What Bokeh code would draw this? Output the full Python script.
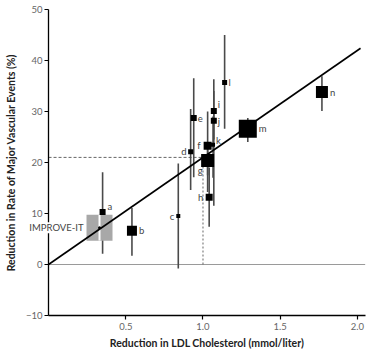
from bokeh.plotting import figure
from bokeh.models import ColumnDataSource, FixedTicker, Range1d, Label, LinearAxis
from bokeh.core.properties import value
from bokeh.embed import file_html
from bokeh.resources import INLINE

# ---- data ----
labels = ["a", "b", "c", "d", "e", "f", "g", "h", "i", "j", "k", "l", "m", "n"]
ldl_red = [0.35, 0.54, 0.84, 0.92, 0.94, 1.03, 1.03, 1.04, 1.07, 1.07, 1.065, 1.14, 1.29, 1.77]
event_red = [10.3, 6.6, 9.5, 22.1, 28.7, 23.3, 20.4, 13.2, 30.1, 28.2, 23.5, 35.7, 26.6, 33.8]
ci_low = [2.1, 1.7, -0.8, 14.6, 17.1, 17.5, 14.2, 7.4, 24.5, 11.5, 17.0, 26.6, 24.0, 30.1]
ci_high = [18.1, 11.1, 19.8, 30.5, 36.5, 30.0, 23.5, 19.0, 36.3, 34.0, 29.0, 45.0, 28.7, 36.9]
weights = [6, 10, 4, 5, 6, 8, 13, 7, 6, 6, 4, 5, 18, 12]

improve_label = "IMPROVE-IT"
improve_x = [0.33]
improve_y = [7.2]
improve_lo = [4.7]
improve_hi = [9.7]

reg_x = [0.0, 2.02]
reg_y = [0.0, 42.4]
ref_x = [1.0]
ref_y = [21.0]

y_ticks = [-10, 0, 10, 20, 30, 40, 50]
x_ticks = [0.5, 1.0, 1.5, 2.0]
x_min, x_max = 0.0, 2.05
y_min, y_max = -10, 50

# label placement (styling, screen px)
lab_dx = [5, 7, -4, -4, 4, -7, -5, -6, 4, 4, 3, 4, 11, 8]
lab_dy = [-5, 0, 0, 0, 0, 0, 10, 0, -6, 1, -4, 0, 0, 0]
lab_align = ["left", "left", "right", "right", "left", "right", "right", "right",
             "left", "left", "left", "left", "left", "left"]

FONT = "Lato"

p = figure(width=367, height=350, output_backend="svg", toolbar_location=None,
           x_range=Range1d(-0.311, 2.065), y_range=Range1d(-16.86, 51.76),
           x_axis_location=None, y_axis_location=None,
           min_border_left=0, min_border_right=0, min_border_top=0, min_border_bottom=0)
p.outline_line_color = None
p.grid.visible = False
p.background_fill_color = "white"

yaxis = LinearAxis(fixed_location=x_min, bounds=(y_min, y_max))
xaxis = LinearAxis(fixed_location=y_min, bounds=(x_min, x_max))
p.add_layout(yaxis, "left")
p.add_layout(xaxis, "below")

# zero line
p.line(x=[x_min, x_max], y=[0, 0], line_color="#9a9a9a", line_width=1)

# dashed reference lines
p.line(x=[x_min, ref_x[0]], y=[ref_y[0], ref_y[0]], line_color="#666666", line_width=1, line_dash="3 2")
p.line(x=[ref_x[0], ref_x[0]], y=[0, ref_y[0]], line_color="#666666", line_width=1, line_dash="2 2")

src = ColumnDataSource(dict(x=ldl_red, y=event_red, lo=ci_low, hi=ci_high, s=weights,
                            lab=labels, dx=lab_dx, dy=lab_dy, al=lab_align))

# error bars
p.segment(x0="x", y0="lo", x1="x", y1="hi", source=src, line_color="#4a4a4a", line_width=1.6)

# IMPROVE-IT box
isrc = ColumnDataSource(dict(x=improve_x, y=improve_y, lo=improve_lo, hi=improve_hi))
p.scatter(x="x", y="y", source=isrc, marker="square", size=26, fill_color="#a8a8a8", line_color=None)
p.segment(x0="x", y0="lo", x1="x", y1="hi", source=isrc, line_color="white", line_width=2)
p.scatter(x="x", y="y", source=isrc, marker="circle", size=3, fill_color="black", line_color=None)

# regression line
p.line(x=reg_x, y=reg_y, line_color="black", line_width=1.6)

# trial squares
p.scatter(x="x", y="y", size="s", source=src, marker="square", fill_color="black", line_color=None)
p.text(x="x", y="y", text="lab", source=src, x_offset="dx", y_offset="dy", text_align="al",
       text_baseline="middle", text_font=value(FONT), text_font_size="9.5px", text_color="#444444")

# axes
xaxis.ticker = FixedTicker(ticks=x_ticks)
yaxis.ticker = FixedTicker(ticks=y_ticks)
for ax in (xaxis, yaxis):
    ax.minor_tick_line_color = None
    ax.axis_line_color = "black"
    ax.axis_line_width = 1.3
    ax.major_tick_line_color = "black"
    ax.major_tick_line_width = 1.2
    ax.major_tick_out = 4
    ax.major_tick_in = 0
    ax.major_label_text_font = FONT
    ax.major_label_text_font_size = "9.5px"
    ax.major_label_text_color = "#666666"
    ax.axis_label_text_font = FONT
    ax.axis_label_text_font_size = "10.5px"
    ax.axis_label_text_font_style = "bold"
    ax.axis_label_text_color = "#222222"
xaxis.major_label_overrides = {0.5: "0.5", 1.0: "1.0", 1.5: "1.5", 2.0: "2.0"}
xaxis.axis_label = "Reduction in LDL Cholesterol (mmol/liter)"
yaxis.axis_label = "Reduction in Rate of Major Vascular Events (%)"
xaxis.major_label_standoff = 3
yaxis.major_label_standoff = 2
xaxis.axis_label_standoff = 4
yaxis.axis_label_standoff = 6

p.add_layout(Label(x=improve_x[0], y=improve_y[0], text=improve_label, x_offset=-16,
                   text_align="right", text_baseline="middle", text_font=FONT,
                   text_font_size="9.5px", text_color="#444444",
                   background_fill_color="white"))

open("out.html", "w").write(file_html(p, INLINE))
